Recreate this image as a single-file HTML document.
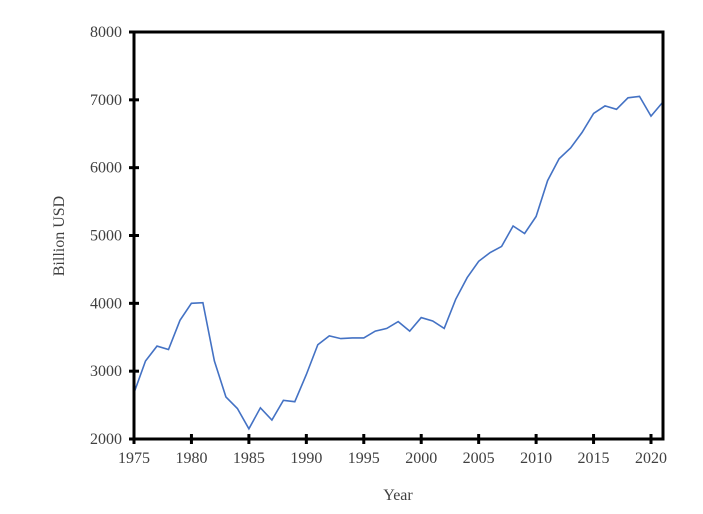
<!DOCTYPE html>
<html><head><meta charset="utf-8"><style>
html,body{margin:0;padding:0;background:#fff;}
svg text{font-family:"Liberation Serif",serif;font-size:16px;fill:#404040;}
</style></head><body>
<svg width="703" height="509">
<g id="plot"></g>
</svg>
<script>
const years=[1975,1976,1977,1978,1979,1980,1981,1982,1983,1984,1985,1986,1987,1988,1989,1990,1991,1992,1993,1994,1995,1996,1997,1998,1999,2000,2001,2002,2003,2004,2005,2006,2007,2008,2009,2010,2011,2012,2013,2014,2015,2016,2017,2018,2019,2020,2021];
const values=[2680,3150,3370,3320,3750,4000,4010,3150,2620,2450,2150,2460,2280,2570,2550,2950,3390,3520,3480,3490,3490,3590,3630,3730,3590,3790,3740,3630,4060,4380,4620,4750,4840,5140,5030,5280,5810,6130,6290,6520,6800,6910,6860,7030,7050,6760,6960];
const xTicks=[1975,1980,1985,1990,1995,2000,2005,2010,2015,2020];
const yTicks=[2000,3000,4000,5000,6000,7000,8000];
const L=134,R=663,T=32,B=439;
const x=v=>L+(v-1975)*(651-134)/45;
const y=v=>B-(v-2000)*(B-T)/6000;
const NS="http://www.w3.org/2000/svg";
const g=document.getElementById('plot');
function mk(t,a){const e=document.createElementNS(NS,t);for(const k in a)e.setAttribute(k,a[k]);g.appendChild(e);return e;}
let d=values.map((v,i)=>(i?'L':'M')+x(years[i]).toFixed(1)+','+y(v).toFixed(1)).join('');
const line=mk('path',{d:d,fill:'none',stroke:'#4472c4','stroke-width':1.6});


const frame=mk('rect',{x:L,y:T,width:R-L,height:B-T,fill:'none',stroke:'#000','stroke-width':3});


yTicks.forEach(t=>{
 mk('line',{x1:L-5,x2:L+5,y1:y(t),y2:y(t),stroke:'#000','stroke-width':3});
 const tx=mk('text',{x:L-12,y:y(t)+5,'text-anchor':'end'});tx.textContent=t;
 
 
});
xTicks.forEach(t=>{
 mk('line',{x1:x(t),x2:x(t),y1:B-5,y2:B+5,stroke:'#000','stroke-width':3});
 const tx=mk('text',{x:x(t),y:B+24,'text-anchor':'middle'});tx.textContent=t;
 
 
});
const xt=mk('text',{x:398,y:500,'text-anchor':'middle'});xt.textContent='Year';


const yt=mk('text',{x:0,y:0,'text-anchor':'middle',transform:'translate(64,236) rotate(-90)'});yt.textContent='Billion USD';


</script>
</body></html>
